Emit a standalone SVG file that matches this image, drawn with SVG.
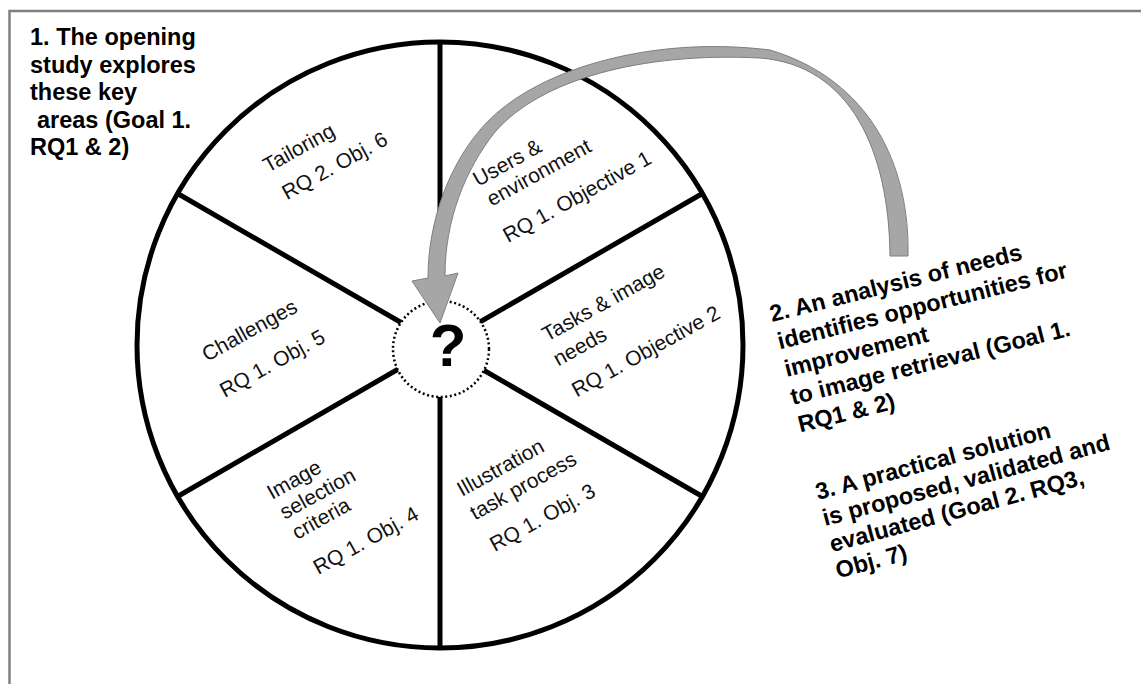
<svg xmlns="http://www.w3.org/2000/svg" width="1141" height="684" viewBox="0 0 1141 684">
  <style>
    .bold { font-family: "Liberation Sans", Arial, sans-serif; font-weight: bold; font-size: 23.5px; fill: #000; }
    .seg { font-family: "Liberation Sans", Arial, sans-serif; font-size: 21px; fill: #111; }
    .spoke { stroke: #000; stroke-width: 5; fill: none; }
    .q { font-family: "Liberation Sans", Arial, sans-serif; font-weight: bold; font-size: 60px; fill: #000; }
  </style>

  <rect x="0" y="0" width="1141" height="684" fill="#fff"/>
  <!-- outer frame (continues past the right and bottom edges) -->
  <rect x="9.5" y="11" width="1200" height="720" fill="none" stroke="#808080" stroke-width="2.5"/>

  <!-- wheel -->
  <g id="wheel">
    <g class="spoke">
      <line x1="440" y1="345" x2="440" y2="42"/>
      <line x1="440" y1="345" x2="702.4" y2="193.5"/>
      <line x1="440" y1="345" x2="702.4" y2="496.5"/>
      <line x1="440" y1="345" x2="440" y2="648"/>
      <line x1="440" y1="345" x2="177.6" y2="496.5"/>
      <line x1="440" y1="345" x2="177.6" y2="193.5"/>
    </g>
    <circle cx="440" cy="345" r="303" class="spoke"/>
  </g>

  <!-- hub with question mark -->
  <g id="hub">
    <circle cx="441" cy="349" r="48" fill="#fff" stroke="#000" stroke-width="2.5" stroke-dasharray="2 2.6"/>
  </g>

  <!-- connectors -->
  <g id="connectors">
    <path d="M908,256 C910,165 870,80 770,50 C650,35 530,70 480,130 C450,165 428,220 428,278 L412,281 L440,323 L458,273 L445,276 C445,220 465,170 495,132 C540,80 640,52 760,58 C850,65 889,150 890,256 Z" fill="#a6a6a6" stroke="#7f7f7f" stroke-width="1"/>
  </g>

  <g id="hub-label">
    <text class="q" x="448" y="366" text-anchor="middle">?</text>
  </g>

  <!-- segment labels -->
  <g id="seg-tailoring" class="seg" transform="translate(268,173) rotate(-29)">
    <text x="0" y="0">Tailoring</text>
    <text x="3.5" y="33">RQ 2. Obj. 6</text>
  </g>
  <g id="seg-users" class="seg" transform="translate(478,187) rotate(-29)">
    <text x="0" y="0">Users &amp;</text>
    <text x="2.5" y="24">environment</text>
    <text x="-1" y="63.5">RQ 1. Objective 1</text>
  </g>
  <g id="seg-tasks" class="seg" transform="translate(547,342) rotate(-29)">
    <text x="0" y="0">Tasks &amp; image</text>
    <text x="-2" y="27">needs</text>
    <text x="-1" y="63">RQ 1. Objective 2</text>
  </g>
  <g id="seg-illustration" class="seg" transform="translate(462,497) rotate(-29)">
    <text x="0" y="0">Illustration</text>
    <text x="0" y="27">task process</text>
    <text x="2" y="64">RQ 1. Obj. 3</text>
  </g>
  <g id="seg-selection" class="seg" transform="translate(272,500) rotate(-29)">
    <text x="0" y="0">Image</text>
    <text x="1.5" y="23.5">selection</text>
    <text x="2.5" y="47">criteria</text>
    <text x="4" y="88">RQ 1. Obj. 4</text>
  </g>
  <g id="seg-challenges" class="seg" transform="translate(207,362) rotate(-29)">
    <text x="0" y="0">Challenges</text>
    <text x="-2" y="40">RQ 1. Obj. 5</text>
  </g>

  <!-- stage notes -->
  <g id="note-1" class="bold">
    <text x="30" y="45">1. The opening</text>
    <text x="30" y="72.5">study explores</text>
    <text x="30" y="100">these key</text>
    <text x="37" y="127.5">areas (Goal 1.</text>
    <text x="30" y="155">RQ1 &amp; 2)</text>
  </g>
  <g id="note-2" class="bold" transform="translate(772,322) rotate(-14)">
    <text x="0" y="0">2. An analysis of needs</text>
    <text x="1" y="28.5">identifies opportunities for</text>
    <text x="1" y="57">improvement</text>
    <text x="0" y="85.5">to image retrieval (Goal 1.</text>
    <text x="0.6" y="114">RQ1 &amp; 2)</text>
  </g>
  <g id="note-3" class="bold" transform="translate(818,500) rotate(-15)">
    <text x="0" y="0">3. A practical solution</text>
    <text x="0" y="27">is proposed, validated and</text>
    <text x="0" y="54">evaluated (Goal 2. RQ3,</text>
    <text x="-1" y="81">Obj. 7)</text>
  </g>
</svg>
